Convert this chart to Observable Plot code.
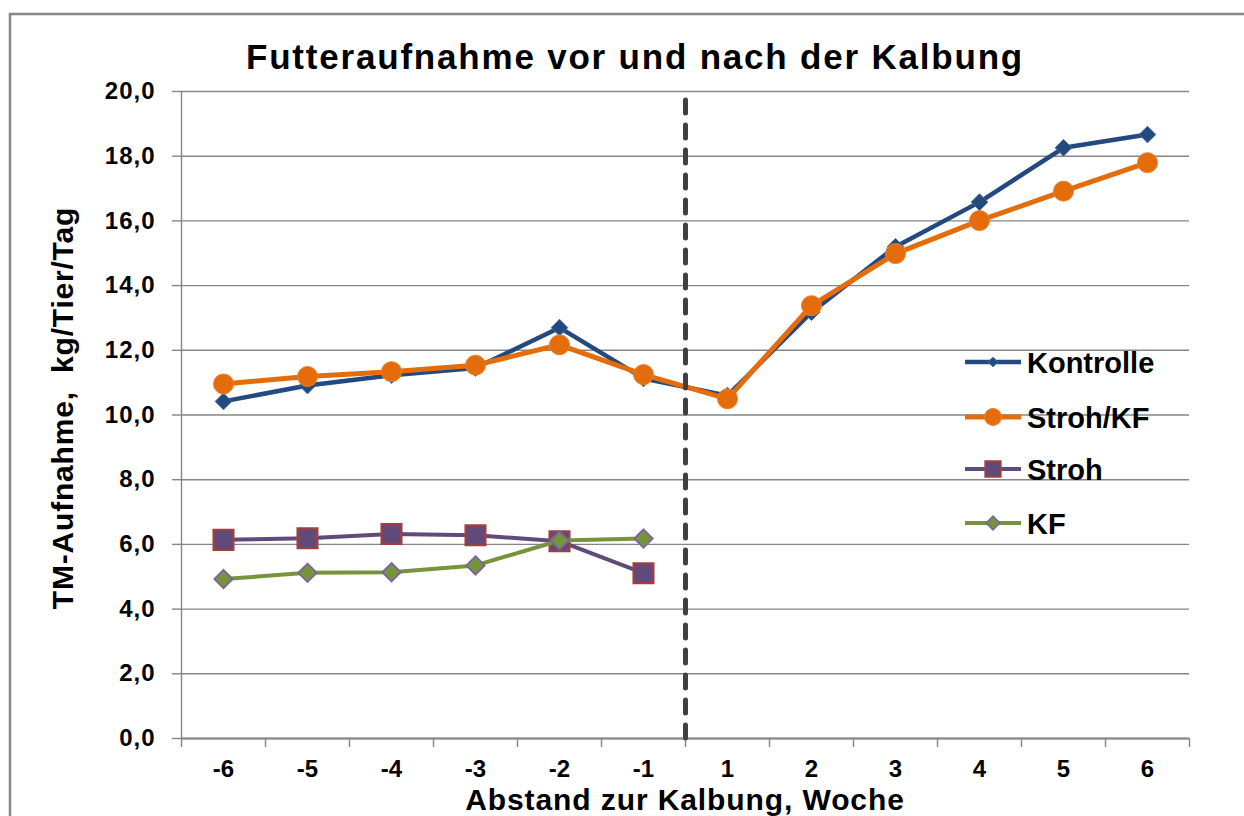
<!DOCTYPE html>
<html>
<head>
<meta charset="utf-8">
<script src="https://cdn.jsdelivr.net/npm/d3@7"></script>
<script src="https://cdn.jsdelivr.net/npm/@observablehq/plot@0.6"></script>
<style>
  html, body { margin: 0; padding: 0; background: #fff; overflow: hidden; }
  #chart { position: relative; width: 1244px; height: 816px; }
  #chart svg { position: absolute; left: 0; top: 0; }
</style>
</head>
<body>
<div id="chart"></div>
<script>
// ---- data ----
const categories = ["-6", "-5", "-4", "-3", "-2", "-1", "1", "2", "3", "4", "5", "6"];
const kontrolle = [10.42, 10.91, 11.23, 11.45, 12.7, 11.13, 10.6, 13.18, 15.2, 16.58, 18.26, 18.67];
const strohKF   = [10.96, 11.19, 11.34, 11.54, 12.17, 11.25, 10.5, 13.38, 14.99, 16.01, 16.92, 17.8];
const stroh     = [6.14, 6.19, 6.32, 6.28, 6.1, 5.11];
const kf        = [4.93, 5.12, 5.14, 5.35, 6.12, 6.18];
const yTicks = [0, 2, 4, 6, 8, 10, 12, 14, 16, 18, 20];
const seriesNames = ["Kontrolle", "Stroh/KF", "Stroh", "KF"];
const title = "Futteraufnahme vor und nach der Kalbung";
const xLabel = "Abstand zur Kalbung, Woche";
const yLabel = "TM-Aufnahme,  kg/Tier/Tag";
const calvingAfter = "-1";

const rows = (vals) => vals.map((v, i) => ({i, v}));
const idx = categories.map((c, i) => i);
const bounds = d3.range(categories.length + 1).map(i => i - 0.5);

const C = {
  blue: "#23497e", blueEdge: "#3f69a3",
  orange: "#e46c0a", orangeEdge: "#e8822e",
  purple: "#604a7b", squareEdge: "#a0403e",
  green: "#77933c", greenEdge: "#7b62a0",
  grid: "#868686"
};

const plot = Plot.plot({
  width: 1244, height: 816,
  marginLeft: 181, marginRight: 55, marginTop: 91, marginBottom: 78,
  x: {type: "linear", domain: [-0.5, categories.length - 0.5]},
  y: {domain: [0, 20]},
  style: {fontFamily: "'Liberation Sans', Arial, sans-serif", color: "#000", background: "transparent", overflow: "visible"},
  marks: [
    Plot.gridY(yTicks, {stroke: C.grid, strokeOpacity: 1, strokeWidth: 1.4}),
    Plot.ruleX([-0.5], {stroke: C.grid, strokeWidth: 1.4}),
    Plot.ruleY([0], {stroke: C.grid, strokeWidth: 2}),
    Plot.axisY(yTicks, {tickSize: 9, tickPadding: 17, stroke: C.grid, strokeWidth: 1.4,
      tickFormat: d => d.toFixed(1).replace(".", ","), fontSize: 24, fontWeight: "bold", label: null}),
    Plot.axisX(bounds, {tickSize: 9, stroke: C.grid, strokeWidth: 1.4, tickFormat: () => "", label: null}),
    Plot.axisX(idx, {tickSize: 0, tickPadding: 21, tickFormat: i => categories[i], fontSize: 24, fontWeight: "bold", label: null}),

    Plot.line(rows(kontrolle), {x: "i", y: "v", stroke: C.blue, strokeWidth: 4.5}),
    Plot.dot(rows(kontrolle), {x: "i", y: "v", symbol: "diamond2", r: 7.5, fill: C.blue, stroke: C.blueEdge, strokeWidth: 1}),

    Plot.line(rows(strohKF), {x: "i", y: "v", stroke: C.orange, strokeWidth: 5}),
    Plot.dot(rows(strohKF), {x: "i", y: "v", symbol: "circle", r: 10, fill: C.orange, stroke: C.orangeEdge, strokeWidth: 1}),

    Plot.line(rows(stroh), {x: "i", y: "v", stroke: C.purple, strokeWidth: 4}),
    Plot.dot(rows(stroh), {x: "i", y: "v", symbol: "square", r: 11.2, fill: C.purple, stroke: C.squareEdge, strokeWidth: 2.2}),

    Plot.line(rows(kf), {x: "i", y: "v", stroke: C.green, strokeWidth: 4}),
    Plot.dot(rows(kf), {x: "i", y: "v", symbol: "diamond2", r: 8.3, fill: C.green, stroke: C.greenEdge, strokeWidth: 1.8}),

    Plot.ruleX([categories.indexOf(calvingAfter) + 0.5], {y1: 0, y2: 20, stroke: "#404040", strokeWidth: 5,
      strokeDasharray: "13,12", strokeLinecap: "round"})
  ]
});

document.getElementById("chart").appendChild(plot);
const svg = d3.select(plot);
svg.selectAll('g[aria-label="y-axis tick label"] text').style("letter-spacing", "1px");

// outer chart border
svg.insert("path", ":first-child").attr("d", "M10,820V14H1250").attr("fill", "none").attr("stroke", "#878787").attr("stroke-width", 2.5);

const FONT = "'Liberation Sans', Arial, sans-serif";
// title
svg.append("text").attr("x", 635).attr("y", 69).attr("text-anchor", "middle")
  .attr("font-family", FONT).attr("font-weight", "bold").attr("font-size", 35)
  .style("letter-spacing", "1.8px").text(title);
// x axis label
svg.append("text").attr("x", 685).attr("y", 809.5).attr("text-anchor", "middle")
  .attr("font-family", FONT).attr("font-weight", "bold").attr("font-size", 30)
  .style("letter-spacing", "0.9px").text(xLabel);
// y axis label
svg.append("text").attr("transform", "translate(73,408) rotate(-90)").attr("text-anchor", "middle")
  .attr("font-family", FONT).attr("font-weight", "bold").attr("font-size", 30)
  .style("letter-spacing", "0.8px").style("white-space", "pre").text(yLabel);

// legend
const legendY = [362, 417, 469, 523];
const legendSpec = [
  {line: C.blue, sym: d3.symbolDiamond2, size: 60, fill: C.blue, stroke: C.blueEdge, sw: 1, lw: 4.5},
  {line: C.orange, sym: d3.symbolCircle, size: 227, fill: C.orange, stroke: C.orangeEdge, sw: 1, lw: 5},
  {line: C.purple, sym: d3.symbolSquare, size: 240, fill: C.purple, stroke: C.squareEdge, sw: 1.8, lw: 4},
  {line: C.green, sym: d3.symbolDiamond2, size: 120, fill: C.green, stroke: C.greenEdge, sw: 1.5, lw: 4}
];
const lg = svg.append("g").attr("aria-label", "legend");
seriesNames.forEach((name, k) => {
  const s = legendSpec[k], y = legendY[k];
  lg.append("line").attr("x1", 965).attr("x2", 1021).attr("y1", y).attr("y2", y)
    .attr("stroke", s.line).attr("stroke-width", s.lw);
  lg.append("path").attr("transform", `translate(993,${y})`).attr("d", d3.symbol(s.sym, s.size)())
    .attr("fill", s.fill).attr("stroke", s.stroke).attr("stroke-width", s.sw);
  lg.append("text").attr("x", 1027).attr("y", y + 10.5).attr("text-anchor", "start")
    .attr("font-family", FONT).attr("font-weight", "bold").attr("font-size", 29).text(name);
});
</script>
</body>
</html>
